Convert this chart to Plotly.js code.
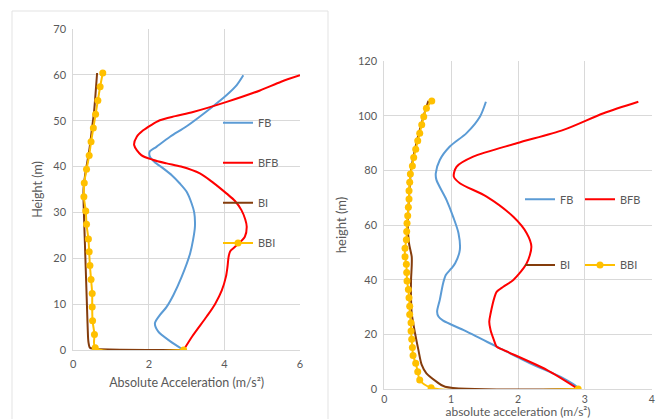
<!DOCTYPE html>
<html>
<head>
<meta charset="utf-8">
<script src="https://cdn.plot.ly/plotly-3.0.1.min.js"></script>
<style>html,body{margin:0;padding:0;background:#fff;}#chart{width:656px;height:419px;}</style>
</head>
<body>
<div id="chart"></div>
<script>
// ---------- Left chart (60 m) ----------
const leftFB_y = [0, 2, 4, 5.8, 7.5, 9.4, 12, 16, 21, 24, 27, 30, 32, 34.5, 36.3, 38, 39.6, 41, 42.1, 43.2, 44.3, 46.5, 48.8, 52.9, 55.6, 57.7, 59.9];
const leftFB_x = [2.92, 2.55, 2.25, 2.16, 2.28, 2.47, 2.65, 2.87, 3.09, 3.17, 3.22, 3.2, 3.13, 3.0, 2.82, 2.62, 2.38, 2.15, 2.03, 2.02, 2.2, 2.56, 3.0, 3.66, 4.06, 4.32, 4.5];

const leftBFB_y = [0, 3, 7.3, 10, 13, 16, 18.1, 20.3, 21.5, 22.5, 24.7, 26.9, 28.5, 30.5, 32.5, 34.1, 36.5, 38.5, 40, 40.7, 41.5, 42.5, 44.7, 46.5, 47.9, 49, 50.1, 51, 51.9, 54.1, 56.6, 58.5, 59.9];
const leftBFB_x = [2.92, 3.15, 3.53, 3.75, 3.93, 4.04, 4.08, 4.11, 4.15, 4.28, 4.54, 4.59, 4.55, 4.45, 4.28, 4.06, 3.7, 3.35, 2.85, 2.47, 2.1, 1.8, 1.61, 1.68, 1.85, 2.05, 2.29, 2.7, 3.17, 4.06, 4.94, 5.5, 6.0];

const leftBI_y = [0, 0.3, 0.5, 1.8, 5, 10, 15, 20, 25, 30, 35, 38, 41, 44, 48, 52, 56, 60.4];
const leftBI_x = [2.92, 0.53, 0.44, 0.40, 0.38, 0.36, 0.34, 0.32, 0.30, 0.28, 0.27, 0.31, 0.37, 0.43, 0.49, 0.55, 0.59, 0.63];

const leftBBI_y = [0, 0.5, 3.4, 6.4, 9.4, 12.3, 15.4, 18.4, 21.4, 24.2, 27.4, 30.3, 33.4, 36.4, 39.4, 42.4, 45.4, 48.4, 51.4, 54.4, 57.4, 60.4];
const leftBBI_x = [2.92, 0.58, 0.56, 0.51, 0.50, 0.50, 0.47, 0.44, 0.42, 0.40, 0.35, 0.33, 0.28, 0.29, 0.35, 0.42, 0.47, 0.53, 0.59, 0.65, 0.71, 0.78];

// ---------- Right chart (105 m) ----------
const rightFB_y = [0, 0.8, 3.9, 9.4, 15.5, 21.6, 25, 26.5, 28.3, 32.6, 38.7, 41.7, 44, 46, 50.9, 57, 63, 69.2, 76.5, 78.9, 83.8, 88.7, 93.6, 99.6, 105.1];
const rightFB_x = [2.90, 2.88, 2.68, 2.18, 1.68, 1.18, 0.88, 0.81, 0.79, 0.83, 0.88, 0.92, 1.0, 1.06, 1.13, 1.11, 1.03, 0.93, 0.78, 0.77, 0.83, 0.98, 1.23, 1.43, 1.52];

const rightBFB_y = [0, 7, 14.3, 15.5, 17.9, 21.5, 24.6, 27.6, 33.7, 35.5, 37.4, 39.9, 46, 52.1, 57, 63, 70.4, 75.3, 77.7, 81.3, 85, 89.9, 94.8, 100.9, 105.1];
const rightBFB_x = [2.90, 2.43, 1.78, 1.68, 1.64, 1.59, 1.57, 1.59, 1.65, 1.68, 1.78, 1.93, 2.13, 2.20, 2.13, 1.93, 1.53, 1.13, 1.04, 1.08, 1.33, 1.98, 2.68, 3.28, 3.80];

const rightBI_y = [0, 0.8, 2.7, 5.7, 8.8, 14.3, 20.4, 27.7, 33, 39.9, 45, 48.4, 53.3, 60, 70, 80, 90, 100, 105.4];
const rightBI_x = [2.90, 0.91, 0.78, 0.63, 0.56, 0.51, 0.46, 0.41, 0.40, 0.40, 0.41, 0.41, 0.37, 0.35, 0.37, 0.40, 0.48, 0.59, 0.66];

const rightBBI_y = [0, 0.5, 3.3, 6.3, 9.4, 12.3, 15.2, 18.2, 21.2, 24.2, 27.3, 30.3, 33.4, 36.4, 39.5, 42.6, 45.6, 48.4, 51.5, 54.6, 57.6, 60.6, 63.4, 66.5, 69.5, 72.5, 75.6, 78.7, 81.6, 84.7, 87.7, 90.8, 93.6, 96.7, 99.6, 102.7, 105.4];
const rightBBI_x = [2.90, 0.70, 0.53, 0.50, 0.47, 0.43, 0.42, 0.41, 0.40, 0.40, 0.38, 0.38, 0.37, 0.36, 0.34, 0.335, 0.33, 0.31, 0.31, 0.33, 0.335, 0.34, 0.35, 0.36, 0.37, 0.37, 0.38, 0.39, 0.42, 0.44, 0.47, 0.50, 0.53, 0.56, 0.59, 0.63, 0.71];

const seriesNames = ['FB', 'BFB', 'BI', 'BBI'];
const colors = {FB: '#5B9BD5', BFB: '#FF0000', BI: '#843C0C', BBI: '#FFC000'};

function tr(name, x, y, xa, ya, leg) {
  const t = {
    type: 'scatter', mode: name === 'BBI' ? 'lines+markers' : 'lines',
    name: name, x: x, y: y, xaxis: xa, yaxis: ya, legend: leg,
    line: {color: colors[name], width: 2, shape: 'spline', smoothing: 0.8},
    hoverinfo: 'skip'
  };
  if (name === 'BBI') t.marker = {color: colors[name], size: 7};
  return t;
}

const data = [
  tr('FB', leftFB_x, leftFB_y, 'x', 'y', 'legend'),
  tr('BFB', leftBFB_x, leftBFB_y, 'x', 'y', 'legend2'),
  tr('BI', leftBI_x, leftBI_y, 'x', 'y', 'legend3'),
  tr('BBI', leftBBI_x, leftBBI_y, 'x', 'y', 'legend4'),
  tr('FB', rightFB_x, rightFB_y, 'x2', 'y2', 'legend5'),
  tr('BFB', rightBFB_x, rightBFB_y, 'x2', 'y2', 'legend6'),
  tr('BI', rightBI_x, rightBI_y, 'x2', 'y2', 'legend7'),
  tr('BBI', rightBBI_x, rightBBI_y, 'x2', 'y2', 'legend8')
];

const W = 656, H = 419;
const font = 'Lato, "Open Sans", sans-serif';
const tickFont = {family: font, size: 11, color: '#595959'};
const grid = '#D9D9D9';

function leg(px, py) {
  return {x: px / W, y: 1 - py / H, xanchor: 'left', yanchor: 'middle',
    bgcolor: 'rgba(0,0,0,0)', borderwidth: 0, itemwidth: 30,
    font: {family: font, size: 11, color: '#595959'}};
}

const layout = {
  width: W, height: H,
  margin: {l: 0, r: 0, t: 0, b: 0},
  paper_bgcolor: '#ffffff', plot_bgcolor: '#ffffff',
  showlegend: true,
  xaxis: {domain: [73.3 / W, 300 / W], range: [0, 6], dtick: 2, anchor: 'y',
    showgrid: true, gridcolor: grid, zeroline: false, showline: true, linecolor: grid,
    ticks: '', tickfont: tickFont, ticklabelstandoff: 4,
    title: {text: 'Absolute Acceleration (m/s²)', font: {family: font, size: 12.5, color: '#595959'}, standoff: 9}},
  yaxis: {domain: [1 - 350 / H, 1 - 29 / H], range: [0, 70], dtick: 10, anchor: 'x',
    showgrid: true, gridcolor: grid, zeroline: false, showline: true, linecolor: grid,
    ticks: '', tickfont: tickFont, ticklabelstandoff: 4,
    title: {text: 'Height (m)', font: {family: font, size: 12.5, color: '#595959'}, standoff: 7}},
  xaxis2: {domain: [384.3 / W, 651.7 / W], range: [0, 4], dtick: 1, anchor: 'y2',
    showgrid: true, gridcolor: grid, zeroline: false, showline: true, linecolor: grid,
    ticks: '', tickfont: {family: font, size: 10.5, color: '#595959'}, ticklabelstandoff: 0,
    title: {text: 'absolute acceleration (m/s²)', font: {family: font, size: 12, color: '#595959'}, standoff: 2}},
  yaxis2: {domain: [1 - 389 / H, 1 - 61 / H], range: [0, 120], dtick: 20, anchor: 'x2',
    showgrid: true, gridcolor: grid, zeroline: false, showline: true, linecolor: grid,
    ticks: '', tickfont: tickFont, ticklabelstandoff: 4,
    title: {text: 'height (m)', font: {family: font, size: 13, color: '#595959'}, standoff: 8}},
  legend: leg(218, 122.7),
  legend2: leg(218, 162.7),
  legend3: leg(218, 202.7),
  legend4: leg(218, 243),
  legend5: leg(520, 199.3),
  legend6: leg(580, 199.3),
  legend7: leg(520, 265),
  legend8: leg(580, 265),
  shapes: [
    {type: 'rect', xref: 'paper', yref: 'paper', x0: 12 / W, x1: 328 / W, y0: -0.05, y1: 1 - 11 / H,
     line: {color: '#E3E3E3', width: 1}, fillcolor: 'rgba(0,0,0,0)', layer: 'below'}
  ]
};

Plotly.newPlot('chart', data, layout, {staticPlot: true, displayModeBar: false});
</script>
</body>
</html>
